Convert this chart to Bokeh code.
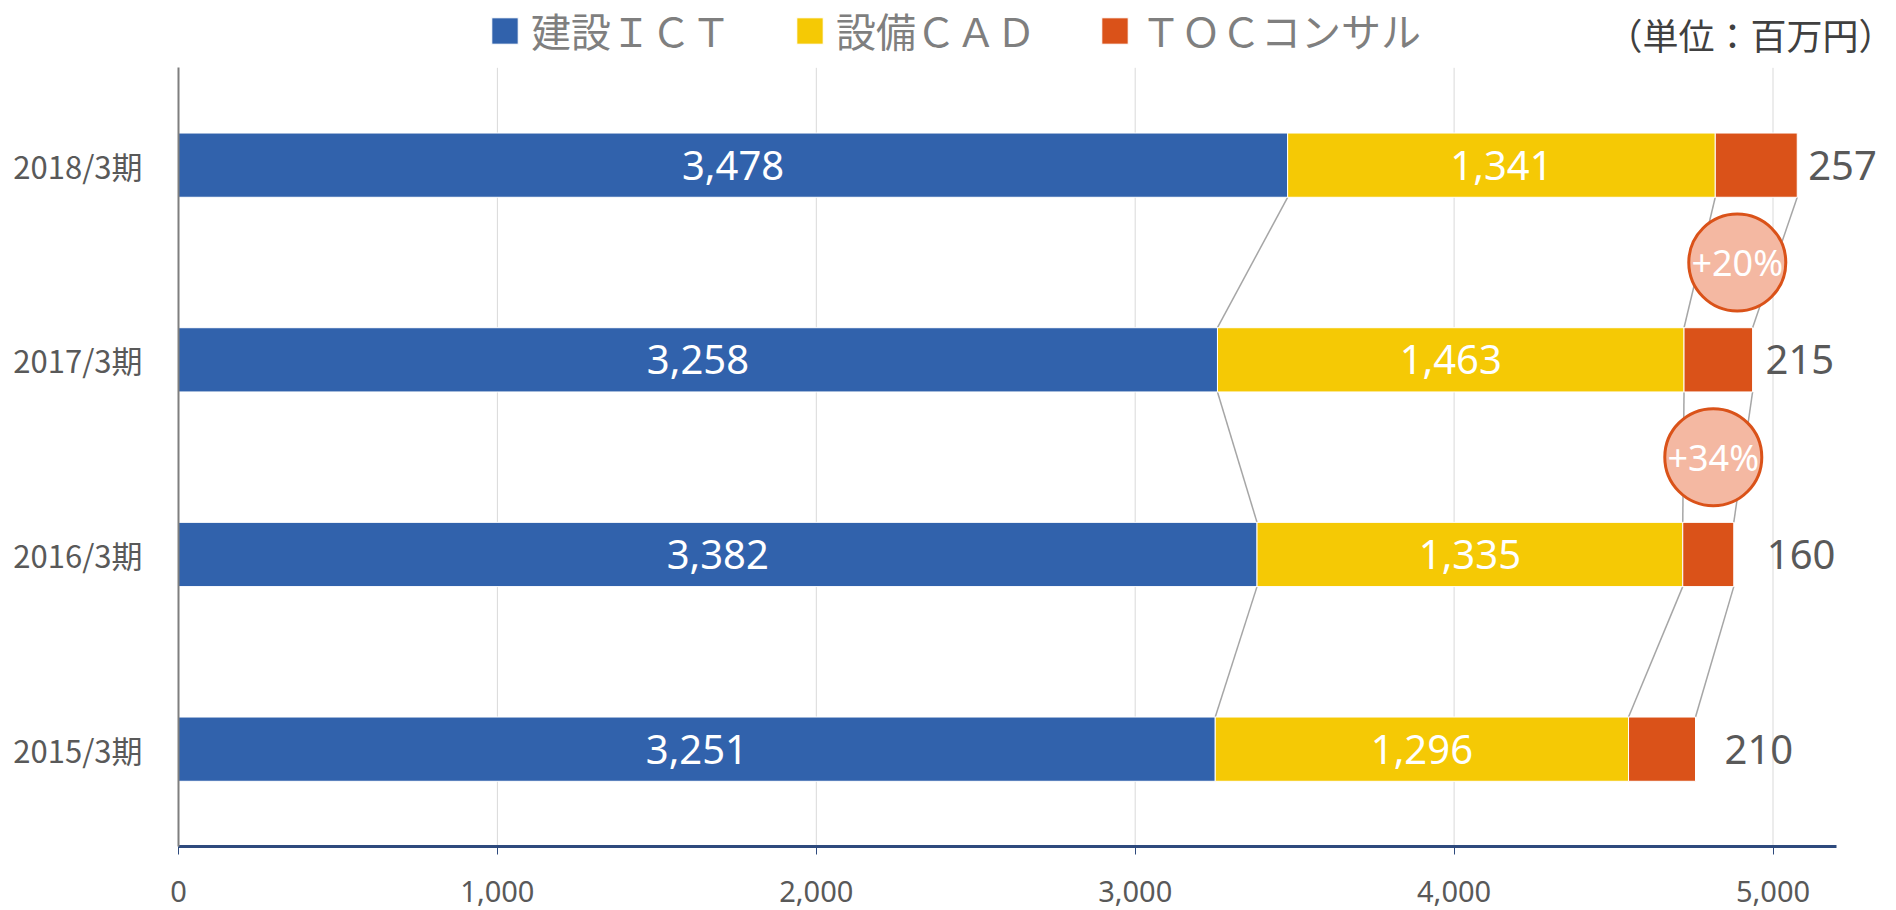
from bokeh.plotting import figure
from bokeh.models import (ColumnDataSource, Legend, LegendItem, Label, FixedTicker,
                          NumeralTickFormatter, Range1d)
from bokeh.core.properties import value
from bokeh.embed import file_html
from bokeh.resources import INLINE

# ---- data ----
periods = ["2015/3期", "2016/3期", "2017/3期", "2018/3期"]
ict = [3251, 3382, 3258, 3478]
cad = [1296, 1335, 1463, 1341]
toc = [210, 160, 215, 257]
series_names = ["建設ＩＣＴ", "設備ＣＡＤ", "ＴＯＣコンサル"]
x_ticks = [0, 1000, 2000, 3000, 4000, 5000]
x_axis_max = 5200
unit_text = "（単位：百万円）"

# ---- style ----
BLUE = "#3162AC"
YELLOW = "#F5C905"
ORANGE = "#DA5219"
CIRCLE_FILL = "#F4B8A2"
GRAY_TXT = "#595959"
UNIT_TXT = "#404040"
LEGEND_TXT = "#7F7F7F"
JP = "Noto Sans CJK JP"
NUM = "Noto Sans"
BAR_H = 0.33
toc_label_offsets = [29, 33, 13, 11]

W, H = 1894, 910
LEFT, BOTTOM = 178, 64
PX_PER_UNIT = 0.3189          # horizontal px per value unit
PX_PER_CAT = 194.67           # vertical px per category

n = len(periods)
ys = list(range(n))
ict_end = ict[:]
cad_end = [a + b for a, b in zip(ict, cad)]
toc_end = [a + b for a, b in zip(cad_end, toc)]

frame_w = W - LEFT
frame_h = H - BOTTOM
x_end = frame_w / PX_PER_UNIT
y_end = -0.5 + frame_h / PX_PER_CAT

src = ColumnDataSource(dict(
    y=ys, zero=[0] * n, ict_end=ict_end, cad_end=cad_end, toc_end=toc_end,
    ict_mid=[e / 2 for e in ict_end],
    cad_mid=[(a + b) / 2 for a, b in zip(ict_end, cad_end)],
    ict_lbl=[f"{v:,}" for v in ict],
    cad_lbl=[f"{v:,}" for v in cad],
))

p = figure(width=W, height=H, output_backend="svg", toolbar_location=None,
           x_range=Range1d(0, x_end), y_range=Range1d(-0.5, y_end),
           min_border_left=LEFT, min_border_right=0, min_border_top=0,
           min_border_bottom=BOTTOM)
p.outline_line_color = None
p.background_fill_color = "white"
p.xgrid.grid_line_color = None
p.ygrid.grid_line_color = None

# vertical gridlines limited to the plot area
p.segment(x0=x_ticks[1:], y0=[-0.5] * (len(x_ticks) - 1), x1=x_ticks[1:],
          y1=[n - 0.5] * (len(x_ticks) - 1), line_color="#D9D9D9", line_width=1)

# connectors between bars
sx0, sy0, sx1, sy1 = [], [], [], []
for i in range(n - 1):
    for ends in (ict_end, cad_end, toc_end):
        sx0.append(ends[i]); sy0.append(ys[i] + BAR_H / 2)
        sx1.append(ends[i + 1]); sy1.append(ys[i + 1] - BAR_H / 2)
p.segment(x0=sx0, y0=sy0, x1=sx1, y1=sy1, line_color="#A6A6A6", line_width=1.5)

# bars
r1 = p.hbar(y="y", left="zero", right="ict_end", height=BAR_H, source=src,
            fill_color=BLUE, line_color="white", line_width=1)
r2 = p.hbar(y="y", left="ict_end", right="cad_end", height=BAR_H, source=src,
            fill_color=YELLOW, line_color="white", line_width=1)
r3 = p.hbar(y="y", left="cad_end", right="toc_end", height=BAR_H, source=src,
            fill_color=ORANGE, line_color="white", line_width=1)

# labels in bars
p.text(x="ict_mid", y="y", text="ict_lbl", source=src, text_color="white",
       text_font=value(NUM), text_font_size="40px", text_align="center",
       text_baseline="middle")
p.text(x="cad_mid", y="y", text="cad_lbl", source=src, text_color="white",
       text_font=value(NUM), text_font_size="40px", text_align="center",
       text_baseline="middle")
for i in range(n):
    p.text(x=[toc_end[i]], y=[ys[i]], text=[f"{toc[i]:,}"], x_offset=toc_label_offsets[i],
           text_color=GRAY_TXT, text_font=value(NUM), text_font_size="40px",
           text_align="left", text_baseline="middle")

# growth circles (TOC growth between consecutive years, latest two)
cx, cy, ctxt = [], [], []
for i in range(1, n - 1):
    growth = toc[i + 1] / toc[i] - 1
    cx.append((cad_end[i] + toc_end[i] + cad_end[i + 1] + toc_end[i + 1]) / 4)
    cy.append((ys[i] + ys[i + 1]) / 2)
    ctxt.append(f"+{round(growth * 100):d}%")
p.scatter(x=cx, y=cy, marker="circle", size=97, fill_color=CIRCLE_FILL,
          line_color=ORANGE, line_width=3)
p.text(x=cx, y=cy, text=ctxt, text_color="white", text_font=value(NUM),
       text_font_size="36px", text_align="center", text_baseline="middle")

# axes
xa = p.xaxis[0]
xa.bounds = (0, x_axis_max)
xa.ticker = FixedTicker(ticks=x_ticks)
xa.formatter = NumeralTickFormatter(format="0,0")
xa.axis_line_color = "#2E4A7D"
xa.axis_line_width = 3
xa.major_tick_line_color = "#2E4A7D"
xa.major_tick_line_width = 1
xa.major_tick_out = 8
xa.major_tick_in = 0
xa.minor_tick_line_color = None
xa.major_label_standoff = 26
xa.major_label_text_font = NUM
xa.major_label_text_font_size = "29px"
xa.major_label_text_color = GRAY_TXT

ya = p.yaxis[0]
ya.bounds = (-0.5, n - 0.5)
ya.ticker = FixedTicker(ticks=ys)
ya.major_label_overrides = {i: periods[i] for i in ys}
ya.axis_line_color = "#7F7F7F"
ya.axis_line_width = 2
ya.major_tick_line_color = None
ya.minor_tick_line_color = None
ya.major_label_standoff = 30
ya.major_label_text_font = JP
ya.major_label_text_font_size = "31px"
ya.major_label_text_color = GRAY_TXT

# legend (top, inside the extended frame area)
items = [LegendItem(label=series_names[0], renderers=[r1]),
         LegendItem(label=series_names[1], renderers=[r2]),
         LegendItem(label=series_names[2], renderers=[r3])]
legend = Legend(items=items, orientation="horizontal", location=(310, 787),
                glyph_width=33, glyph_height=33, label_standoff=10, spacing=62,
                padding=0, margin=0, border_line_color=None,
                background_fill_alpha=0, label_text_font=JP,
                label_text_font_size="40px", label_text_color=LEGEND_TXT)
p.add_layout(legend, "center")

unit = Label(x=frame_w, y=frame_h - 33, x_units="screen", y_units="screen",
             text=unit_text, text_align="right", text_baseline="middle",
             text_font=JP, text_font_size="36px", text_color=UNIT_TXT)
p.add_layout(unit)

open("out.html", "w").write(file_html(p, INLINE))
